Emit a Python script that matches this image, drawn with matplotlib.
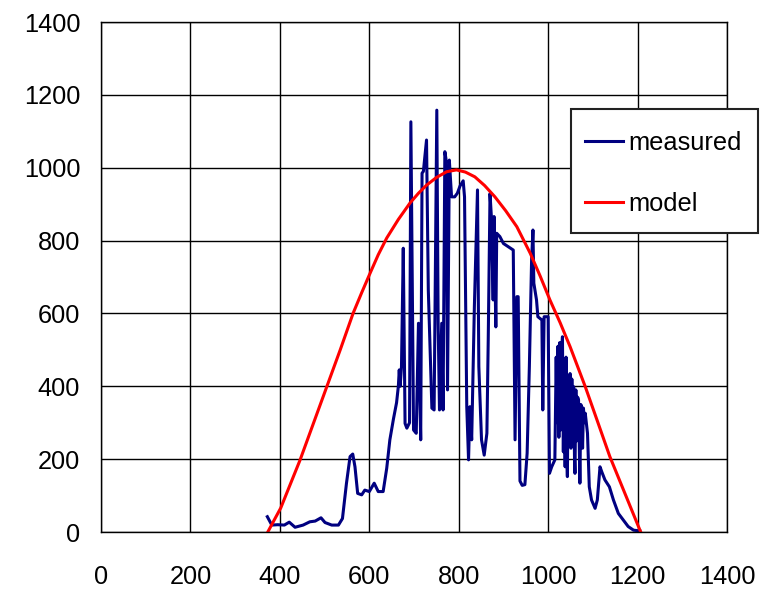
import matplotlib
matplotlib.use("Agg")
import matplotlib.pyplot as plt
from matplotlib.patches import Rectangle

plt.rcParams['font.family'] = ['Liberation Sans', 'DejaVu Sans']

measured_x = [372, 382, 395, 410, 421, 434, 452, 467, 479, 492, 501, 516, 531, 540,
              549, 557, 563, 568, 574, 583, 590, 600, 611, 620, 631, 639, 646, 654,
              661, 665, 667, 669, 672, 676, 680, 684, 690, 693, 699, 705, 710, 715,
              718, 721, 728, 732, 740, 745, 751, 754, 757, 762, 765, 769, 772, 775,
              779, 784, 791, 797, 803, 810, 813, 818, 822, 825, 829, 835, 842, 845,
              851, 857, 863, 866, 870, 873, 877, 879, 883, 885, 892, 900, 911, 922,
              926, 930, 933, 937, 942, 948, 953, 958, 963, 966, 968, 974, 977, 986,
              988, 991, 1000, 1003, 1008, 1015, 1018, 1020, 1022, 1024, 1026, 1028,
              1030, 1032, 1034, 1036, 1038, 1040, 1042, 1043, 1045, 1047, 1049, 1051,
              1053, 1055, 1057, 1059, 1060, 1062, 1064, 1066, 1068, 1070, 1071, 1073,
              1075, 1077, 1079, 1081, 1083, 1088, 1092, 1097, 1105, 1110,
              1116, 1120, 1127, 1137, 1146, 1157, 1168, 1179, 1191, 1205]
measured_y = [42, 19, 20, 19, 27, 13, 19, 28, 30, 39, 26, 19, 19, 37,
              134, 207, 214, 179, 106, 102, 115, 111, 134, 111, 111, 175, 253, 310,
              355, 400, 445, 400, 454, 779, 298, 285, 300, 1126, 280, 271, 573, 253,
              985, 990, 1076, 664, 340, 335, 1158, 573, 335, 573, 335, 1044, 1020, 390,
              1021, 920, 920, 930, 950, 964, 920, 344, 198, 344, 253, 618, 939, 454,
              253, 211, 271, 527, 929, 866, 637, 866, 563, 820, 811, 792, 783, 774,
              253, 646, 646, 140, 128, 130, 216, 454, 747, 829, 683, 637, 591, 582,
              335, 591, 591, 161, 179, 198, 480, 300, 510, 260, 520, 280,
              490, 536, 220, 470, 179, 480, 200, 152, 430, 250, 435, 230,
              420, 300, 399, 200, 161, 390, 250, 370, 362, 200, 134, 350,
              344, 230, 340, 300, 326, 271, 124, 88, 65, 88,
              179, 165, 143, 124, 88, 51, 33, 15, 5, 3]

model_x = [373, 387, 402, 423, 445, 475, 505, 535, 564, 583, 602, 620, 639, 665,
           691, 710, 728, 750, 773, 795, 815, 836, 858, 881, 905, 930, 960, 982,
           1004, 1027, 1049, 1083, 1110, 1138, 1172, 1207]
model_y = [0, 32, 66, 130, 197, 298, 399, 500, 601, 657, 711, 761, 807, 858,
           903, 930, 952, 973, 989, 994, 988, 975, 951, 920, 882, 838, 765, 703,
           637, 574, 509, 399, 305, 207, 105, 0]

ticks = [0, 200, 400, 600, 800, 1000, 1200, 1400]

W, H = 763, 591
fig = plt.figure(figsize=(W / 100, H / 100), dpi=100)
ax = fig.add_axes([101 / W, 59 / H, 626 / W, 510 / H])

ax.plot(measured_x, measured_y, color='#000080', lw=2.2, label='measured')
ax.plot(model_x, model_y, color='#ff0000', lw=2.2, label='model')

ax.set_xlim(0, 1400)
ax.set_ylim(0, 1400)
ax.set_xticks(ticks)
ax.set_yticks(ticks)
ax.set_xticklabels([str(t) for t in ticks])
ax.set_yticklabels([str(t) for t in ticks])
ax.grid(True, color='black', lw=1.0)
ax.set_axisbelow(True)
for s in ax.spines.values():
    s.set_color('black')
    s.set_linewidth(1.0)
ax.tick_params(axis='both', length=0, labelsize=18.3, colors='black')
ax.tick_params(axis='x', pad=24)
ax.tick_params(axis='y', pad=15)

# legend frame
rect = Rectangle((571 / W, 1 - 233 / H), 187 / W, 124 / H, transform=fig.transFigure,
                 facecolor='white', edgecolor='#222222', lw=1.5, zorder=4)
fig.add_artist(rect)

leg = fig.legend(loc='upper left', bbox_to_anchor=(585 / W, 1 - 131 / H),
                 fontsize=18.3, frameon=False, borderpad=0,
                 labelspacing=1.44, handlelength=1.5, handletextpad=0.2,
                 borderaxespad=0)
leg.set_zorder(5)

fig.savefig('out.png', dpi=100)
